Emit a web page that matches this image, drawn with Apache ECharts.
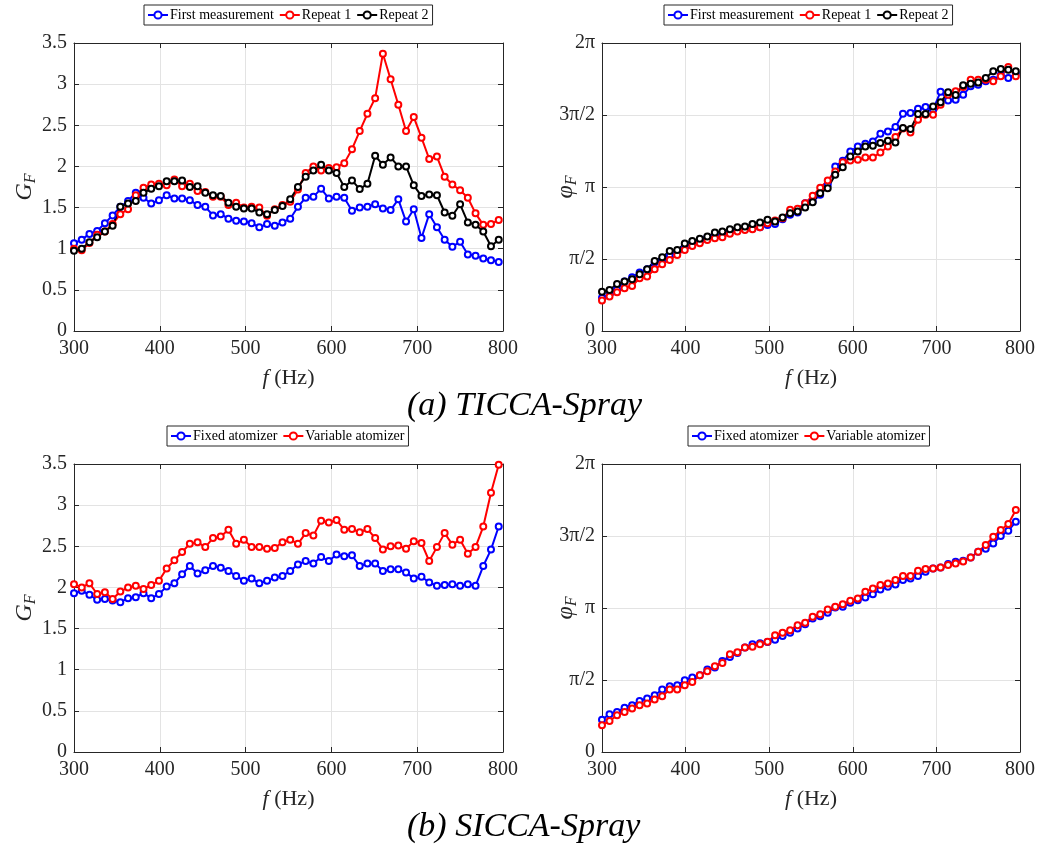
<!DOCTYPE html>
<html>
<head>
<meta charset="utf-8">
<script src="https://cdn.jsdelivr.net/npm/echarts@6/dist/echarts.min.js"></script>
<style>html,body{margin:0;padding:0;background:#fff}#c{width:1041px;height:847px}</style>
</head>
<body>
<div id="c"></div>
<script>
// Frequency samples (Hz)
const freq = [300,309,318,327,336,345,354,363,372,381,390,399,408,417,426,435,444,453,462,471,480,489,498,507,516,525,534,543,552,561,570,579,588,597,606,615,624,633,642,651,660,669,678,687,696,705,714,723,732,741,750,759,768,777,786,795];

// (a) TICCA-Spray : gain
const ticcaGainFirst = [1.065,1.11,1.18,1.215,1.31,1.405,1.51,1.58,1.68,1.62,1.55,1.59,1.65,1.61,1.61,1.59,1.53,1.51,1.405,1.42,1.365,1.34,1.33,1.31,1.26,1.30,1.28,1.32,1.365,
  1.51,1.62,1.63,1.73,1.61,1.63,1.62,1.46,1.50,1.51,1.54,1.49,1.47,1.60,1.33,1.48,1.13,1.42,1.26,1.11,1.025,1.085,0.93,0.915,0.88,0.86,0.84];
const ticcaGainRep1 = [1.00,0.98,1.07,1.17,1.21,1.30,1.42,1.48,1.65,1.74,1.78,1.79,1.77,1.84,1.76,1.79,1.70,1.69,1.63,1.63,1.53,1.56,1.50,1.51,1.50,1.40,1.48,1.53,1.57,
  1.72,1.92,2.00,1.95,1.98,1.99,2.04,2.21,2.43,2.64,2.83,3.37,3.06,2.75,2.43,2.60,2.35,2.09,2.12,1.875,1.78,1.71,1.62,1.43,1.29,1.30,1.35];
const ticcaGainRep2 = [0.975,1.00,1.08,1.14,1.21,1.28,1.51,1.55,1.58,1.68,1.73,1.76,1.82,1.82,1.83,1.75,1.76,1.68,1.65,1.64,1.56,1.51,1.49,1.49,1.44,1.42,1.47,1.52,1.60,
  1.75,1.875,1.95,2.02,1.95,1.92,1.75,1.83,1.725,1.79,2.13,2.02,2.11,2.0,2.0,1.77,1.64,1.66,1.65,1.44,1.40,1.54,1.32,1.29,1.21,1.03,1.11];

// (a) TICCA-Spray : phase (rad)
const ticcaPhaseFirst = [0.728,0.801,0.910,1.078,1.172,1.274,1.347,1.493,1.551,1.660,1.711,1.828,1.915,1.951,2.046,2.061,2.119,2.170,2.206,2.221,2.243,2.264,2.315,2.337,2.439,2.534,2.585,
  2.789,2.825,2.971,3.189,3.590,3.713,3.917,4.026,4.085,4.136,4.303,4.354,4.449,4.740,4.755,4.849,4.886,4.828,5.221,5.031,5.046,5.155,5.337,5.373,5.446,5.483,5.585,5.519,5.614];
const ticcaPhaseRep1 = [0.663,0.750,0.845,0.932,0.983,1.150,1.187,1.347,1.456,1.551,1.660,1.769,1.857,1.915,1.988,2.024,2.046,2.119,2.170,2.206,2.221,2.264,2.352,2.410,2.461,2.643,2.665,
  2.789,2.949,3.124,3.284,3.480,3.684,3.721,3.735,3.786,3.786,3.895,4.026,4.230,4.420,4.332,4.609,4.718,4.718,4.937,5.155,5.228,5.322,5.483,5.483,5.483,5.446,5.556,5.759,5.556];
const ticcaPhaseRep2 = [0.859,0.896,1.027,1.078,1.129,1.238,1.347,1.529,1.609,1.747,1.769,1.908,1.966,2.010,2.061,2.148,2.170,2.221,2.264,2.279,2.337,2.366,2.425,2.388,2.476,2.570,2.607,
  2.694,2.810,3.007,3.116,3.408,3.575,3.808,3.917,4.026,4.041,4.099,4.150,4.114,4.427,4.405,4.733,4.733,4.900,4.988,5.206,5.148,5.359,5.395,5.424,5.519,5.665,5.716,5.701,5.665];

// (b) SICCA-Spray : gain
const siccaGainFixed = [1.93,1.96,1.91,1.85,1.86,1.84,1.82,1.87,1.88,1.93,1.87,1.92,2.01,2.05,2.16,2.26,2.17,2.21,2.26,2.24,2.20,2.14,2.08,2.11,2.05,2.08,2.12,2.14,2.20,
  2.28,2.32,2.29,2.37,2.32,2.40,2.38,2.39,2.26,2.29,2.29,2.20,2.22,2.22,2.18,2.11,2.13,2.06,2.02,2.03,2.04,2.02,2.04,2.02,2.26,2.46,2.74];
const siccaGainVariable = [2.04,2.00,2.05,1.92,1.94,1.86,1.95,2.00,2.02,1.98,2.03,2.08,2.23,2.33,2.43,2.53,2.55,2.49,2.60,2.62,2.70,2.53,2.58,2.49,2.49,2.47,2.48,2.55,2.58,
  2.53,2.66,2.63,2.81,2.79,2.82,2.70,2.71,2.67,2.71,2.60,2.46,2.50,2.51,2.47,2.56,2.54,2.32,2.49,2.66,2.52,2.58,2.41,2.49,2.74,3.15,3.49];

// (b) SICCA-Spray : phase (rad)
const siccaPhaseFixed = [0.706,0.823,0.874,0.968,1.019,1.114,1.165,1.238,1.362,1.434,1.456,1.565,1.624,1.675,1.798,1.842,1.988,2.075,2.162,2.279,2.352,2.370,2.400,2.450,2.530,2.600,2.694,
  2.789,2.912,2.963,3.036,3.153,3.167,3.255,3.313,3.371,3.444,3.546,3.604,3.655,3.750,3.786,3.837,3.932,4.005,4.026,4.099,4.150,4.172,4.245,4.369,4.434,4.551,4.711,4.827,5.024];
const siccaPhaseVariable = [0.582,0.677,0.801,0.874,0.947,1.019,1.056,1.143,1.216,1.362,1.362,1.456,1.529,1.675,1.762,1.871,1.944,2.133,2.177,2.279,2.294,2.352,2.403,2.548,2.599,2.658,2.767,
  2.818,2.949,3.007,3.109,3.167,3.226,3.298,3.349,3.495,3.568,3.641,3.677,3.750,3.837,3.837,3.954,3.990,4.005,4.026,4.077,4.114,4.158,4.245,4.369,4.514,4.696,4.842,4.973,5.279];

const phaseTickLabels = ['0','π/2','π','3π/2','2π'];
const legendTicca = ['First measurement','Repeat 1','Repeat 2'];
const legendSicca = ['Fixed atomizer','Variable atomizer'];
const captions = ['(a) TICCA-Spray','(b) SICCA-Spray'];

const FONT = 'Liberation Serif';
const AX = '#262626';
const BLUE = '#0000ff', RED = '#ff0000', BLACK = '#000000';

const grids = [
  {left:74, top:43, width:429, height:288},
  {left:602, top:43, width:418, height:288},
  {left:74, top:464, width:429, height:288},
  {left:602, top:464, width:418, height:288}
];

const xName = {name:'{i|f} (Hz)', nameLocation:'middle', nameGap:36, nameMoveOverlap:false,
  nameTextStyle:{fontFamily:FONT, fontSize:22, color:AX, rich:{i:{fontFamily:FONT, fontStyle:'italic', fontSize:22, color:AX}}}};

function yName(sym, gap){
  return {name:'{g|'+sym+'}{s|F}', nameLocation:'middle', nameGap:gap, nameMoveOverlap:false,
    nameTextStyle:{color:AX, rich:{
      g:{fontFamily:FONT, fontStyle:'italic', fontSize:24, color:AX, lineHeight:28, verticalAlign:'middle'},
      s:{fontFamily:FONT, fontStyle:'italic', fontSize:16, color:AX, lineHeight:28, verticalAlign:'bottom', padding:[10,0,0,0]}
    }}};
}

const xAxes = [], yAxes = [];
grids.forEach((g,i)=>{
  xAxes.push(Object.assign({type:'value', gridIndex:i, position:'bottom', min:300, max:800, interval:100,
    axisLine:{show:true, onZero:false, lineStyle:{color:AX, width:1}},
    axisTick:{inside:true, length:5, lineStyle:{color:AX}},
    axisLabel:{fontFamily:FONT, fontSize:20, color:AX, margin:8},
    splitLine:{show:true, lineStyle:{color:'#e3e3e3', width:1}}}, xName));
});
grids.forEach((g,i)=>{
  xAxes.push({type:'value', gridIndex:i, position:'top', min:300, max:800, interval:100,
    axisLine:{show:true, onZero:false, lineStyle:{color:AX, width:1}},
    axisTick:{inside:true, length:5, lineStyle:{color:AX}},
    axisLabel:{show:false}, splitLine:{show:false}});
});
grids.forEach((g,i)=>{
  const phase = (i%2===1);
  const base = phase ? {min:0, max:2*Math.PI, interval:Math.PI/2,
      axisLabel:{fontFamily:FONT, fontSize:20, color:AX, margin:7,
        formatter:v=>phaseTickLabels[Math.round(v/(Math.PI/2))]}}
    : {min:0, max:3.5, interval:0.5,
      axisLabel:{fontFamily:FONT, fontSize:20, color:AX, margin:7}};
  yAxes.push(Object.assign({type:'value', gridIndex:i, position:'left',
    axisLine:{show:true, onZero:false, lineStyle:{color:AX, width:1}},
    axisTick:{inside:true, length:5, lineStyle:{color:AX}},
    splitLine:{show:true, lineStyle:{color:'#e3e3e3', width:1}}}, base,
    phase ? yName('φ', 22) : yName('G', 35)));
});
grids.forEach((g,i)=>{
  const phase = (i%2===1);
  yAxes.push({type:'value', gridIndex:i, position:'right',
    min:0, max: phase ? 2*Math.PI : 3.5, interval: phase ? Math.PI/2 : 0.5,
    axisLine:{show:true, onZero:false, lineStyle:{color:AX, width:1}},
    axisTick:{inside:true, length:5, lineStyle:{color:AX}},
    axisLabel:{show:false}, splitLine:{show:false}});
});

function mk(name, arr, color, gi){
  return {type:'line', name:name, xAxisIndex:gi, yAxisIndex:gi,
    data: freq.map((x,k)=>[x, arr[k]]),
    symbol:'emptyCircle', symbolSize:6, showSymbol:true, showAllSymbol:true,
    lineStyle:{color:color, width:2}, itemStyle:{color:color, borderColor:color, borderWidth:1.8},
    emphasis:{disabled:true}, animation:false, z:2};
}

const series = [
  mk(legendTicca[0], ticcaGainFirst, BLUE, 0),
  mk(legendTicca[1], ticcaGainRep1, RED, 0),
  mk(legendTicca[2], ticcaGainRep2, BLACK, 0),
  mk(legendTicca[0], ticcaPhaseFirst, BLUE, 1),
  mk(legendTicca[1], ticcaPhaseRep1, RED, 1),
  mk(legendTicca[2], ticcaPhaseRep2, BLACK, 1),
  mk(legendSicca[0], siccaGainFixed, BLUE, 2),
  mk(legendSicca[1], siccaGainVariable, RED, 2),
  mk(legendSicca[0], siccaPhaseFixed, BLUE, 3),
  mk(legendSicca[1], siccaPhaseVariable, RED, 3)
];

function lg(names, left, top){
  return {data:names, left:left, top:top, orient:'horizontal',
    itemWidth:20, itemHeight:9, itemGap:5, padding:[3,4,3,3],
    borderColor:AX, borderWidth:1, backgroundColor:'#fff',
    textStyle:{fontFamily:FONT, fontSize:14, color:'#000', padding:[0,0,0,-3]},
    selectedMode:false};
}

const chart = echarts.init(document.getElementById('c'), null, {renderer:'canvas'});
chart.setOption({
  backgroundColor:'#fff',
  animation:false,
  grid: grids.map(g=>Object.assign({show:false, containLabel:false}, g)),
  xAxis: xAxes,
  yAxis: yAxes,
  legend: [lg(legendTicca,144,5), lg(legendTicca,664,5), lg(legendSicca,167,426), lg(legendSicca,688,426)],
  series: series,
  graphic: [
    {type:'text', left:407, top:389, style:{text:captions[0], font:'italic 34px "Liberation Serif"', fill:'#000'}},
    {type:'text', left:407, top:810, style:{text:captions[1], font:'italic 34px "Liberation Serif"', fill:'#000'}}
  ]
});
</script>
</body>
</html>
